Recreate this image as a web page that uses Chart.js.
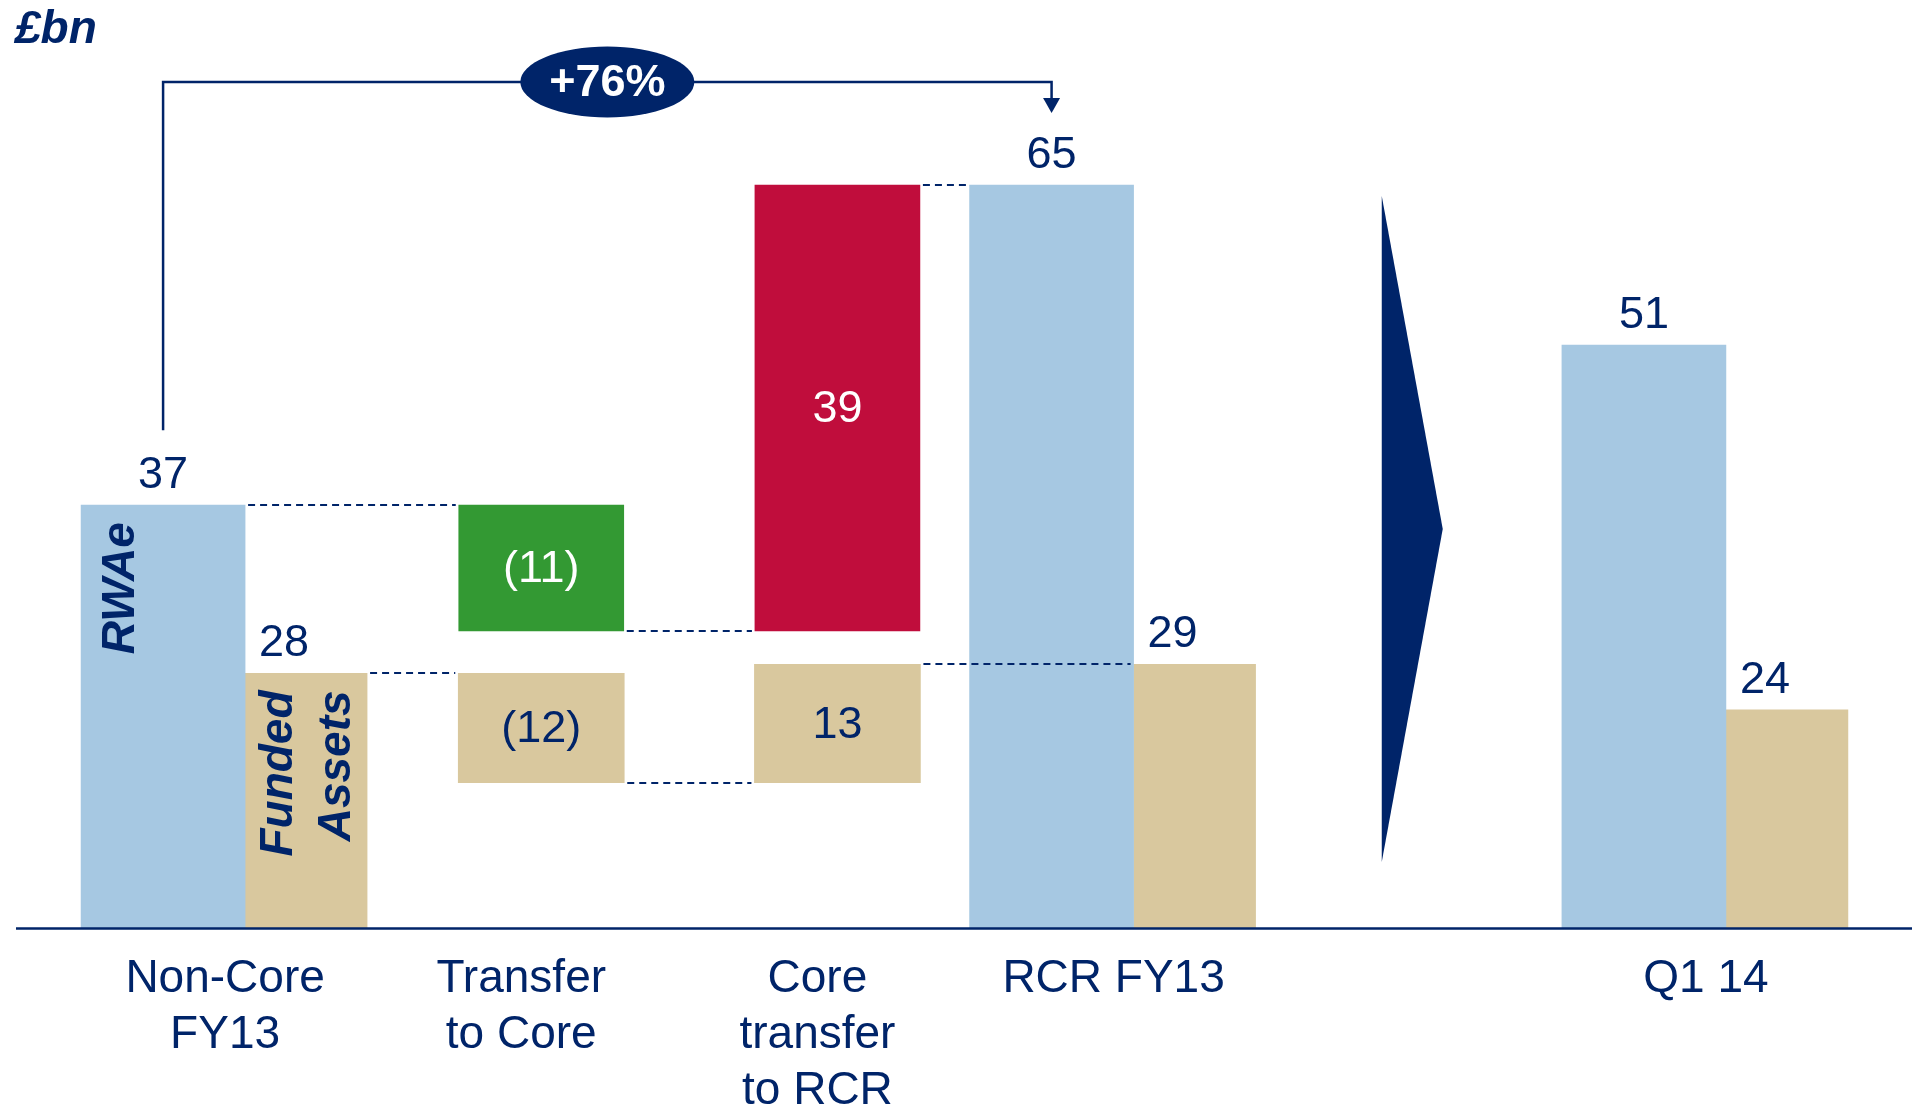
<!DOCTYPE html>
<html>
<head>
<meta charset="utf-8">
<script src="https://cdn.jsdelivr.net/npm/chart.js@4.4.0/dist/chart.umd.min.js"></script>
<style>
  body { margin: 0; background: #fff; }
  canvas { display: block; }
</style>
</head>
<body>
<canvas id="rcr-bridge" width="1918" height="1114"></canvas>
<script>
const categories = [['Non-Core', 'FY13'], ['Transfer', 'to Core'], ['Core', 'transfer', 'to RCR'], 'RCR FY13', '', 'Q1 14'];
const rwaeTotals = [37, null, null, 65, null, 51];
const fundedTotals = [28, null, null, 29, null, 24];
const rwaeChanges = [null, -11, 39, null, null, null];
const fundedChanges = [null, -12, 13, null, null, null];
const seriesNames = ['RWAe', ['Funded', 'Assets']];
const unitLabel = '£bn';
const growthFrom = 0, growthTo = 3;

const NAVY = '#002469';
const BLUE = '#a6c8e2';
const TAN = '#d9c89e';
const GREEN = '#339933';
const RED = '#c00d3c';
const FONT = '"Liberation Sans", Arial, sans-serif';

// running total after each column (null where there is no bar)
function levels(totals, changes) {
  let run = null;
  return totals.map((t, i) => {
    if (t !== null) { run = t; return run; }
    if (changes[i] !== null) { run += changes[i]; return run; }
    return null;
  });
}
// floating bars for the bridge steps
function steps(totals, changes) {
  const lv = levels(totals, changes);
  return changes.map((c, i) => c === null ? null : [Math.min(lv[i] - c, lv[i]), Math.max(lv[i] - c, lv[i])]);
}
const rwaeLevels = levels(rwaeTotals, rwaeChanges);
const fundedLevels = levels(fundedTotals, fundedChanges);

function fmt(v) { return v < 0 ? '(' + Math.abs(v) + ')' : String(v); }

function barAt(chart, i, dsTotal, dsStep) {
  if (chart.data.datasets[dsTotal].data[i] !== null) return chart.getDatasetMeta(dsTotal).data[i];
  if (chart.data.datasets[dsStep].data[i] !== null) return chart.getDatasetMeta(dsStep).data[i];
  return null;
}

const decorations = {
  id: 'decorations',
  afterDatasetsDraw(chart) {
    const ctx = chart.ctx;
    const area = chart.chartArea;
    const x = chart.scales.x, y = chart.scales.y, y2 = chart.scales.y2;
    ctx.save();

    // dashed connectors between bridge steps
    ctx.strokeStyle = NAVY;
    ctx.lineWidth = 2;
    ctx.setLineDash([7, 5]);
    [[0, 2, rwaeLevels, y], [1, 3, fundedLevels, y2]].forEach(([dT, dS, lv, sc]) => {
      for (let i = 0; i < categories.length - 1; i++) {
        const a = barAt(chart, i, dT, dS), b = barAt(chart, i + 1, dT, dS);
        if (!a || !b) continue;
        const py = Math.round(sc.getPixelForValue(lv[i]));
        ctx.beginPath();
        ctx.moveTo(a.x + a.width / 2 + 3, py);
        ctx.lineTo(b.x - b.width / 2 - 3, py);
        ctx.stroke();
      }
    });
    ctx.setLineDash([]);

    // value labels
    ctx.font = '45px ' + FONT;
    ctx.textBaseline = 'alphabetic';
    chart.getDatasetMeta(0).data.forEach((el, i) => {
      if (rwaeTotals[i] === null) return;
      ctx.fillStyle = NAVY; ctx.textAlign = 'center';
      ctx.fillText(fmt(rwaeTotals[i]), el.x, el.y - 17);
    });
    chart.getDatasetMeta(1).data.forEach((el, i) => {
      if (fundedTotals[i] === null) return;
      ctx.fillStyle = NAVY; ctx.textAlign = 'left';
      ctx.fillText(fmt(fundedTotals[i]), el.x - el.width / 2 + 14, el.y - 17);
    });
    ctx.textBaseline = 'middle';
    ctx.textAlign = 'center';
    [[2, rwaeChanges, '#ffffff'], [3, fundedChanges, NAVY]].forEach(([d, vals, col]) => {
      chart.getDatasetMeta(d).data.forEach((el, i) => {
        if (vals[i] === null) return;
        ctx.fillStyle = col;
        ctx.fillText(fmt(vals[i]), el.x, (el.y + el.base) / 2 + 2);
      });
    });

    // rotated series names inside the first column
    ctx.font = 'italic bold 46px ' + FONT;
    ctx.fillStyle = NAVY;
    ctx.textAlign = 'right';
    ctx.textBaseline = 'middle';
    const b0 = chart.getDatasetMeta(0).data[0];
    ctx.save();
    ctx.translate(b0.x - b0.width / 2 + 40, b0.y + 17);
    ctx.rotate(-Math.PI / 2);
    ctx.fillText(seriesNames[0], 0, 0);
    ctx.restore();
    const f0 = chart.getDatasetMeta(1).data[0];
    seriesNames[1].forEach((line, k) => {
      ctx.save();
      ctx.translate(f0.x - f0.width / 2 + 34 + k * 58, f0.y + 17);
      ctx.rotate(-Math.PI / 2);
      ctx.fillText(line, 0, 0);
      ctx.restore();
    });

    // growth bracket
    const from = chart.getDatasetMeta(0).data[growthFrom];
    const to = chart.getDatasetMeta(0).data[growthTo];
    const topY = area.top - 46;
    ctx.strokeStyle = NAVY;
    ctx.lineWidth = 2.5;
    ctx.beginPath();
    ctx.moveTo(from.x, from.y - 75);
    ctx.lineTo(from.x, topY);
    ctx.lineTo(to.x, topY);
    ctx.lineTo(to.x, topY + 17);
    ctx.stroke();
    ctx.fillStyle = NAVY;
    ctx.beginPath();
    ctx.moveTo(to.x - 8.5, topY + 16);
    ctx.lineTo(to.x + 8.5, topY + 16);
    ctx.lineTo(to.x, topY + 31);
    ctx.closePath();
    ctx.fill();
    const mid = (from.x + to.x) / 2;
    ctx.beginPath();
    ctx.ellipse(mid, topY, 87, 35.5, 0, 0, Math.PI * 2);
    ctx.fill();
    const pct = Math.round((rwaeTotals[growthTo] / rwaeTotals[growthFrom] - 1) * 100);
    ctx.fillStyle = '#ffffff';
    ctx.font = 'bold 45px ' + FONT;
    ctx.textAlign = 'center';
    ctx.textBaseline = 'middle';
    ctx.fillText('+' + pct + '%', mid, topY + 2);

    // chevron in the empty column
    const cx = x.getPixelForValue(4);
    ctx.fillStyle = NAVY;
    ctx.beginPath();
    ctx.moveTo(cx - 48, area.top + 68);
    ctx.lineTo(cx + 13, (area.top + 68 + area.bottom - 66) / 2);
    ctx.lineTo(cx - 48, area.bottom - 66);
    ctx.closePath();
    ctx.fill();

    // base line
    ctx.strokeStyle = NAVY;
    ctx.lineWidth = 2.5;
    ctx.beginPath();
    ctx.moveTo(16, area.bottom + 0.5);
    ctx.lineTo(chart.width - 6, area.bottom + 0.5);
    ctx.stroke();

    // unit
    ctx.fillStyle = NAVY;
    ctx.font = 'italic bold 46px ' + FONT;
    ctx.textAlign = 'left';
    ctx.textBaseline = 'alphabetic';
    ctx.fillText(unitLabel, 15, 43);
    ctx.restore();
  }
};

const ctx = document.getElementById('rcr-bridge').getContext('2d');
const bridgeChart = new Chart(ctx, {
  type: 'bar',
  data: {
    labels: categories,
    datasets: [
      { label: 'RWAe', data: rwaeTotals, backgroundColor: BLUE, yAxisID: 'y', barThickness: 164 },
      { label: 'Funded Assets', data: fundedTotals, backgroundColor: TAN, yAxisID: 'y2', barThickness: 122 },
      { label: 'RWAe change', data: steps(rwaeTotals, rwaeChanges), yAxisID: 'y', grouped: false, barThickness: 165,
        backgroundColor: rwaeChanges.map(v => v !== null && v < 0 ? GREEN : RED) },
      { label: 'Funded change', data: steps(fundedTotals, fundedChanges), yAxisID: 'y2', grouped: false, barThickness: 166,
        backgroundColor: TAN }
    ]
  },
  options: {
    responsive: false,
    animation: false,
    datasets: { bar: { clip: false } },
    layout: { padding: { left: 97, right: 44, top: 128, bottom: 0 } },
    plugins: { legend: { display: false }, tooltip: { enabled: false } },
    scales: {
      x: {
        grid: { display: false, drawTicks: false },
        border: { display: false },
        ticks: { color: NAVY, padding: 23, labelOffset: -20, maxRotation: 0, autoSkip: false,
          font: { family: FONT, size: 46, lineHeight: '56px' } },
        afterFit(scale) { scale.height = 186; }
      },
      y: { display: false, min: 0, max: 70 },
      y2: { display: false, min: 0, max: 88 }
    }
  },
  plugins: [decorations]
});
</script>
</body>
</html>
